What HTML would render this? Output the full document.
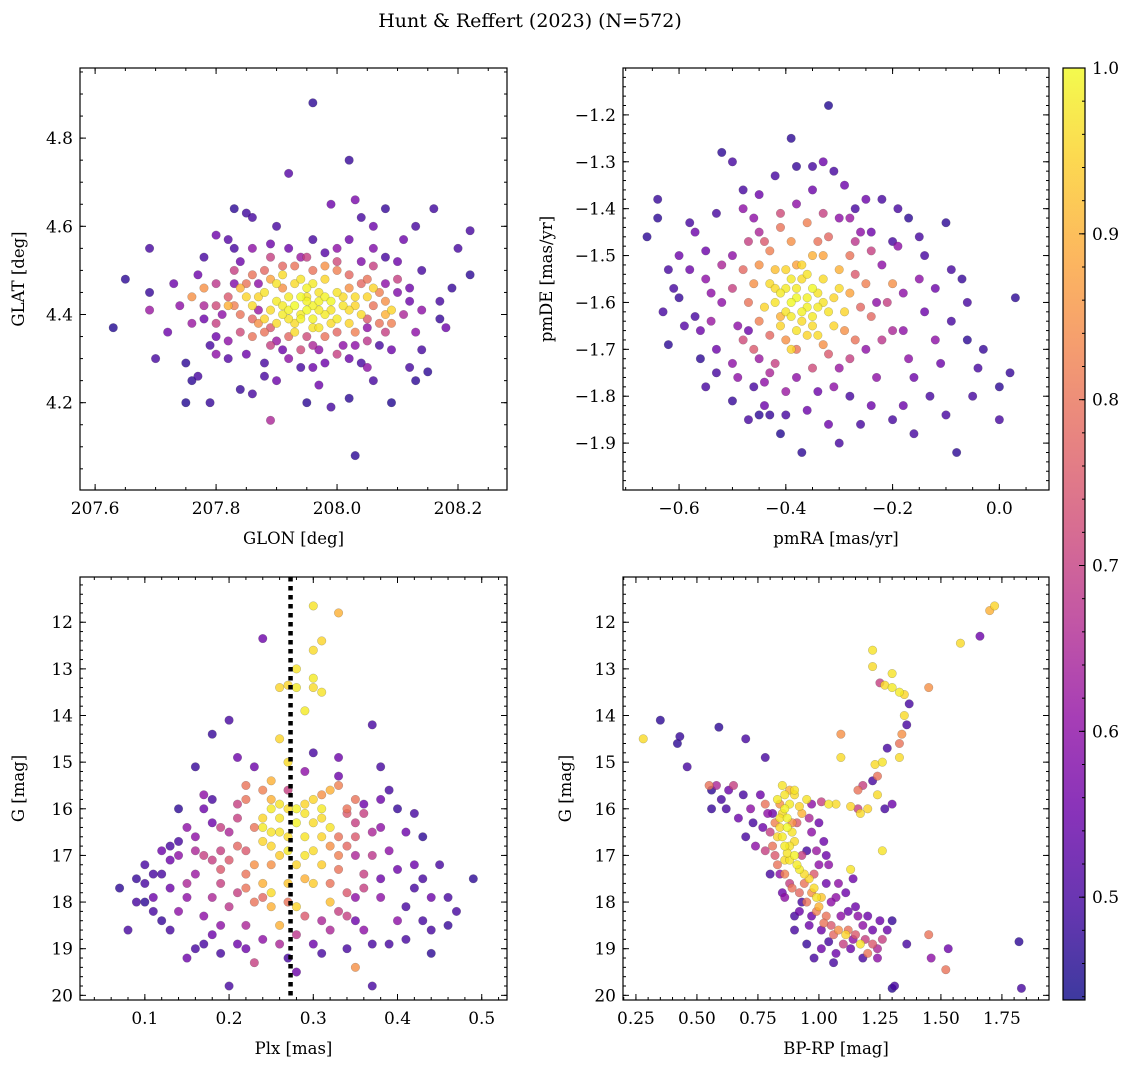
<!DOCTYPE html>
<html><head><meta charset="utf-8"><style>
body{margin:0;background:#fff;}
svg{display:block;font-family:"DejaVu Serif","Liberation Serif",serif;}
</style></head><body>
<svg id="fig" width="1136" height="1067" viewBox="0 0 1136 1067" xmlns="http://www.w3.org/2000/svg">
<text x="530" y="27" font-size="19" text-anchor="middle">Hunt &amp; Reffert (2023) (N=572)</text>
</svg>
<script>
// [x, y, probability] per star
const skyStars=[[207.63,4.37,.46],[207.65,4.48,.47],[207.69,4.55,.5],[207.69,4.45,.48],[207.69,4.41,.62],[207.73,4.47,.55],[207.75,4.29,.47],[207.75,4.20,.46],[207.76,4.25,.47],[207.77,4.26,.5],[207.79,4.20,.48],[207.78,4.53,.5],[207.80,4.35,.55],[207.82,4.57,.52],[207.83,4.64,.47],[207.85,4.63,.49],[207.86,4.62,.5],[207.92,4.72,.52],[207.96,4.88,.47],[207.99,4.65,.55],[208.02,4.75,.48],[208.03,4.66,.57],[208.03,4.08,.47],[208.04,4.62,.5],[208.08,4.64,.48],[208.11,4.57,.55],[208.13,4.60,.5],[208.16,4.64,.49],[208.22,4.59,.5],[208.22,4.49,.47],[208.19,4.46,.48],[208.17,4.43,.5],[208.17,4.39,.48],[208.15,4.27,.47],[208.12,4.28,.5],[208.13,4.25,.47],[208.09,4.20,.46],[208.06,4.25,.5],[208.02,4.30,.55],[208.02,4.21,.47],[207.95,4.20,.47],[207.99,4.19,.5],[207.90,4.25,.55],[207.89,4.16,.65],[207.86,4.22,.5],[207.84,4.23,.48],[207.82,4.30,.52],[207.80,4.31,.6],[207.78,4.39,.55],[207.76,4.38,.62],[208.10,4.52,.55],[208.08,4.47,.6],[208.06,4.55,.58],[208.14,4.50,.5],[208.12,4.43,.55],[208.05,4.37,.6],[208.07,4.33,.5],[207.96,4.28,.55],[207.92,4.30,.6],[207.88,4.29,.5],[207.87,4.47,.6],[207.84,4.52,.55],[207.92,4.55,.55],[208.00,4.55,.6],[207.98,4.54,.52],[207.87,4.41,.62],[208.14,4.41,.6],[207.83,4.47,.58],[207.81,4.40,.6],[207.94,4.53,.62],[208.04,4.52,.58],[208.01,4.33,.6],[207.90,4.34,.62],[207.97,4.32,.6],[208.10,4.45,.58],[207.86,4.55,.6],[207.82,4.44,.75],[207.85,4.47,.8],[207.88,4.50,.78],[207.93,4.51,.8],[208.00,4.50,.82],[208.04,4.47,.78],[208.06,4.42,.8],[208.05,4.39,.75],[208.00,4.36,.78],[207.95,4.35,.72],[207.89,4.37,.75],[207.84,4.40,.8],[207.80,4.42,.72],[207.78,4.46,.85],[208.09,4.38,.82],[208.02,4.46,.85],[207.91,4.46,.85],[207.86,4.35,.8],[207.76,4.44,.85],[208.08,4.40,.9],[207.98,4.51,.85],[207.89,4.48,.88],[207.88,4.45,.97],[207.90,4.43,.98],[207.92,4.41,.99],[207.94,4.44,1],[207.96,4.42,.99],[207.98,4.40,.98],[207.97,4.45,.97],[207.93,4.38,.96],[207.95,4.46,.99],[207.99,4.43,1],[208.01,4.42,.97],[207.91,4.40,.98],[207.89,4.41,.96],[207.94,4.39,.99],[207.96,4.37,.97],[208.02,4.41,.96],[207.87,4.44,.95],[207.93,4.47,.96],[207.98,4.48,.95],[208.03,4.44,.96],[207.90,4.47,.97],[207.86,4.42,.96],[208.00,4.39,.98],[207.95,4.41,1],[208.09,4.41,.95],[207.97,4.43,.99],[207.92,4.44,.98],[208.00,4.45,.97],[207.99,4.38,.96],
[207.93,4.42,1],[207.95,4.43,.99],[207.97,4.41,.98],[207.99,4.41,.97],[207.94,4.40,.98],[207.96,4.39,.99],[207.92,4.39,.97],[207.91,4.42,.98],[207.95,4.44,.97],[207.98,4.44,.99],[208.01,4.44,.96],[208.03,4.42,.95],[208.05,4.44,.95],[207.90,4.38,.96],[207.88,4.39,.95],[207.93,4.36,.96],[207.97,4.37,.97],[208.02,4.38,.95],[207.85,4.44,.95],[208.06,4.46,.95],[208.04,4.40,.96],[207.94,4.48,.97],[207.91,4.49,.96],[207.96,4.47,.98],[207.84,4.46,.9],[207.82,4.42,.9],[207.87,4.38,.85],[207.88,4.36,.8],[207.92,4.35,.78],[207.98,4.35,.8],[208.03,4.36,.82],[208.07,4.38,.8],[208.07,4.45,.82],[208.05,4.48,.8],[208.02,4.49,.78],[207.96,4.50,.8],[207.91,4.51,.78],[207.86,4.49,.8],[207.83,4.42,.82],[207.86,4.39,.78],[208.08,4.43,.85],[207.80,4.38,.7],[207.84,4.36,.72],[207.89,4.33,.7],[207.94,4.32,.72],[208.00,4.31,.7],[208.05,4.34,.68],[208.08,4.36,.7],[208.11,4.40,.65],[208.10,4.48,.7],[208.06,4.51,.7],[208.00,4.52,.72],[207.95,4.53,.7],[207.89,4.53,.7],[207.83,4.50,.7],[207.80,4.47,.68],[207.78,4.42,.65],[207.82,4.34,.6],[207.85,4.31,.55],[207.94,4.28,.5],[207.98,4.29,.55],[208.04,4.29,.5],[208.09,4.32,.55],[208.13,4.36,.6],[208.12,4.46,.55],[208.08,4.53,.5],[208.02,4.57,.55],[207.96,4.57,.5],[207.89,4.56,.55],[207.83,4.55,.5],[207.77,4.49,.55],[207.74,4.42,.6],[207.79,4.33,.5],[207.88,4.26,.5],[207.97,4.24,.55],[208.05,4.28,.6],[208.18,4.37,.55],[208.20,4.55,.5],[207.72,4.36,.55],[207.70,4.30,.5],[208.06,4.60,.55],[207.90,4.60,.5],[207.80,4.58,.55],[208.14,4.32,.5],[207.96,4.33,.65],[207.91,4.32,.55],[208.03,4.33,.6]];
const pmStars=[[-0.66,-1.46,.47],[-0.64,-1.38,.48],[-0.64,-1.42,.47],[-0.62,-1.53,.5],[-0.62,-1.69,.47],[-0.60,-1.59,.48],[-0.58,-1.43,.5],[-0.58,-1.53,.55],[-0.57,-1.63,.5],[-0.56,-1.72,.47],[-0.55,-1.49,.55],[-0.54,-1.58,.6],[-0.53,-1.75,.5],[-0.52,-1.28,.47],[-0.50,-1.30,.5],[-0.50,-1.81,.48],[-0.48,-1.36,.5],[-0.47,-1.66,.55],[-0.46,-1.78,.5],[-0.45,-1.84,.47],[-0.43,-1.84,.48],[-0.42,-1.33,.5],[-0.41,-1.88,.46],[-0.40,-1.84,.5],[-0.39,-1.25,.47],[-0.38,-1.31,.48],[-0.37,-1.92,.47],[-0.35,-1.31,.5],[-0.33,-1.30,.55],[-0.32,-1.18,.46],[-0.31,-1.32,.5],[-0.29,-1.35,.55],[-0.27,-1.40,.5],[-0.24,-1.45,.55],[-0.22,-1.38,.5],[-0.20,-1.47,.5],[-0.17,-1.42,.47],[-0.14,-1.50,.5],[-0.10,-1.43,.47],[-0.09,-1.53,.5],[-0.07,-1.55,.48],[-0.06,-1.68,.47],[-0.04,-1.74,.5],[-0.03,-1.70,.48],[0.00,-1.78,.47],[0.00,-1.85,.5],[0.02,-1.75,.48],[0.03,-1.59,.47],[-0.10,-1.84,.5],[-0.08,-1.92,.47],[-0.13,-1.80,.5],[-0.16,-1.76,.55],[-0.20,-1.85,.5],[-0.24,-1.82,.55],[-0.28,-1.80,.5],[-0.32,-1.86,.55],[-0.34,-1.79,.55],[-0.44,-1.77,.6],[-0.50,-1.73,.6],[-0.56,-1.66,.55],[-0.60,-1.50,.55],[-0.14,-1.62,.55],[-0.12,-1.68,.6],[-0.17,-1.72,.6],[-0.20,-1.66,.65],[-0.23,-1.60,.6],[-0.22,-1.52,.6],[-0.26,-1.45,.6],[-0.30,-1.42,.6],[-0.46,-1.42,.6],[-0.50,-1.50,.6],[-0.52,-1.60,.6],[-0.49,-1.65,.6],[-0.45,-1.72,.62],[-0.38,-1.76,.6],[-0.30,-1.74,.62],[-0.25,-1.70,.6],[-0.18,-1.58,.6],[-0.44,-1.47,.75],[-0.41,-1.44,.8],[-0.36,-1.43,.82],[-0.32,-1.46,.78],[-0.28,-1.50,.8],[-0.25,-1.56,.82],[-0.24,-1.63,.78],[-0.27,-1.68,.8],[-0.32,-1.71,.75],[-0.38,-1.70,.8],[-0.43,-1.67,.78],[-0.47,-1.60,.8],[-0.48,-1.53,.78],[-0.45,-1.52,.85],[-0.33,-1.50,.88],[-0.20,-1.56,.85],[-0.46,-1.70,.75],[-0.41,-1.63,.9],[-0.38,-1.52,.88],[-0.40,-1.57,.98],[-0.38,-1.59,1],[-0.36,-1.61,.99],[-0.34,-1.58,.97],[-0.37,-1.55,.96],[-0.42,-1.60,.97],[-0.39,-1.63,.98],[-0.35,-1.65,.96],[-0.32,-1.62,.97],[-0.33,-1.55,.96],[-0.36,-1.67,.95],[-0.40,-1.53,.95],[-0.43,-1.56,.96],[-0.31,-1.59,.95],[-0.38,-1.66,.97],[-0.35,-1.57,1],[-0.37,-1.62,.99],[-0.41,-1.58,.98],[-0.34,-1.61,.98],[-0.29,-1.62,.95],[-0.39,-1.70,.95],
[-0.39,-1.60,1],[-0.36,-1.59,.99],[-0.38,-1.57,.98],[-0.40,-1.62,.97],[-0.35,-1.63,.98],[-0.33,-1.60,.97],[-0.37,-1.64,.96],[-0.42,-1.57,.96],[-0.36,-1.54,.97],[-0.39,-1.55,.98],[-0.41,-1.65,.95],[-0.34,-1.67,.96],[-0.31,-1.65,.95],[-0.30,-1.57,.96],[-0.44,-1.61,.95],[-0.37,-1.52,.95],[-0.42,-1.53,.92],[-0.35,-1.50,.9],[-0.30,-1.53,.9],[-0.28,-1.58,.88],[-0.29,-1.66,.85],[-0.33,-1.69,.85],[-0.40,-1.68,.85],[-0.45,-1.64,.82],[-0.46,-1.56,.85],[-0.43,-1.49,.82],[-0.39,-1.47,.85],[-0.34,-1.47,.8],[-0.27,-1.54,.75],[-0.26,-1.61,.78],[-0.28,-1.72,.7],[-0.35,-1.74,.72],[-0.42,-1.73,.7],[-0.48,-1.68,.72],[-0.50,-1.57,.7],[-0.47,-1.47,.7],[-0.41,-1.41,.72],[-0.33,-1.41,.7],[-0.24,-1.49,.7],[-0.21,-1.60,.7],[-0.22,-1.68,.68],[-0.52,-1.52,.65],[-0.54,-1.64,.62],[-0.49,-1.76,.6],[-0.40,-1.79,.62],[-0.31,-1.78,.6],[-0.23,-1.76,.6],[-0.18,-1.66,.6],[-0.15,-1.55,.6],[-0.19,-1.48,.6],[-0.28,-1.42,.62],[-0.38,-1.39,.6],[-0.48,-1.40,.6],[-0.55,-1.55,.6],[-0.57,-1.45,.55],[-0.59,-1.65,.52],[-0.53,-1.70,.55],[-0.44,-1.82,.55],[-0.36,-1.83,.55],[-0.26,-1.86,.5],[-0.18,-1.82,.55],[-0.11,-1.73,.55],[-0.09,-1.64,.5],[-0.12,-1.57,.55],[-0.15,-1.46,.5],[-0.25,-1.38,.55],[-0.35,-1.36,.55],[-0.45,-1.37,.55],[-0.53,-1.41,.5],[-0.61,-1.57,.5],[-0.06,-1.60,.5],[-0.05,-1.80,.5],[-0.16,-1.88,.5],[-0.30,-1.90,.5],[-0.47,-1.85,.5],[-0.55,-1.78,.5],[-0.63,-1.62,.5],[-0.19,-1.40,.5],[-0.27,-1.47,.68],[-0.45,-1.45,.65],[-0.43,-1.75,.65]];
const plxStars=[[0.07,17.7,.47],[0.08,18.6,.5],[0.09,17.5,.48],[0.10,17.2,.5],[0.10,18.0,.47],[0.11,17.9,.55],[0.12,17.4,.5],[0.12,18.4,.48],[0.13,17.1,.55],[0.13,16.8,.5],[0.14,16.0,.47],[0.14,18.2,.6],[0.15,19.2,.55],[0.15,17.6,.65],[0.16,15.1,.48],[0.16,16.6,.6],[0.17,18.9,.5],[0.17,17.0,.7],[0.18,14.4,.48],[0.18,16.3,.55],[0.19,18.5,.6],[0.19,17.3,.75],[0.20,14.1,.5],[0.20,16.5,.65],[0.21,17.8,.7],[0.21,18.9,.55],[0.22,15.5,.8],[0.22,16.9,.75],[0.23,19.3,.7],[0.23,18.0,.8],[0.24,12.35,.55],[0.24,16.2,.95],[0.25,15.8,.9],[0.25,17.2,.85],[0.26,14.5,.95],[0.26,16.5,.97],[0.27,13.35,.95],[0.27,15.0,.96],[0.28,13.4,.98],[0.28,16.0,.99],[0.29,16.6,.97],[0.29,17.5,.9],[0.30,11.65,.97],[0.30,13.2,.98],[0.30,12.6,.96],[0.31,12.4,.95],[0.31,13.5,.97],[0.31,16.2,.96],[0.32,15.6,.9],[0.32,16.8,.85],[0.33,11.8,.9],[0.33,17.3,.8],[0.34,16.1,.75],[0.34,18.3,.7],[0.35,19.4,.85],[0.35,17.0,.65],[0.36,15.9,.55],[0.36,18.6,.6],[0.37,14.2,.5],[0.37,19.8,.5],[0.38,17.5,.55],[0.38,16.4,.6],[0.39,18.9,.5],[0.39,15.6,.5],[0.40,17.3,.55],[0.40,16.0,.48],[0.41,18.1,.5],[0.42,17.7,.5],[0.43,16.6,.47],[0.43,18.4,.5],[0.44,19.1,.47],[0.45,17.2,.5],[0.46,18.5,.48],[0.47,18.2,.5],[0.49,17.5,.47],[0.20,19.8,.5],[0.30,18.9,.55],[0.26,18.5,.9],[0.28,18.1,.95],[0.25,17.8,.96],[0.29,17.0,.97],[0.27,16.9,.98],[0.24,16.4,.98],[0.26,15.9,.97],[0.30,15.8,.95],[0.32,16.4,.97],[0.28,16.3,.99],[0.25,16.8,.95],[0.31,17.2,.94],[0.27,17.6,.93],[0.22,17.4,.8],[0.34,17.8,.75],[0.36,17.4,.7],[0.19,16.9,.7],[0.33,16.6,.8],[0.21,16.2,.7],[0.18,17.9,.65],[0.35,16.3,.7],[0.24,18.8,.6],[0.31,18.4,.65],[0.15,16.4,.6],[0.41,16.5,.55],[0.12,16.9,.55],[0.44,17.9,.55],[0.28,19.5,.55],[0.33,15.3,.55],[0.23,15.1,.55],[0.17,15.7,.6],[0.38,15.1,.5],[0.30,14.8,.5],[0.29,13.9,.98],[0.28,13.0,.97],[0.26,13.4,.95],[0.30,13.4,.96],[0.25,15.4,.9],[0.35,17.9,.6],
[0.25,16.0,.98],[0.26,16.2,.97],[0.27,16.0,.96],[0.25,16.5,.97],[0.24,16.7,.95],[0.27,16.6,.96],[0.29,16.1,.97],[0.30,16.3,.96],[0.31,16.0,.98],[0.29,15.9,.95],[0.31,16.6,.95],[0.30,16.9,.96],[0.28,17.2,.95],[0.26,17.0,.94],[0.24,17.6,.9],[0.25,18.1,.9],[0.30,17.6,.94],[0.32,18.0,.92],[0.22,15.8,.8],[0.23,16.4,.8],[0.21,16.8,.78],[0.20,17.1,.75],[0.22,17.7,.8],[0.24,17.9,.78],[0.27,18.0,.8],[0.29,18.3,.75],[0.32,17.6,.8],[0.33,17.0,.82],[0.34,16.8,.78],[0.35,16.6,.75],[0.34,16.0,.8],[0.33,15.5,.82],[0.35,15.8,.8],[0.31,15.7,.85],[0.24,15.6,.82],[0.21,15.9,.7],[0.19,16.4,.7],[0.18,17.1,.7],[0.19,17.6,.7],[0.20,18.1,.68],[0.22,18.5,.65],[0.26,18.9,.65],[0.28,18.7,.68],[0.32,18.6,.65],[0.33,18.2,.7],[0.36,17.7,.7],[0.37,17.0,.68],[0.37,16.5,.65],[0.36,16.1,.7],[0.16,17.4,.62],[0.15,17.9,.6],[0.17,18.3,.6],[0.14,17.0,.6],[0.16,16.9,.65],[0.38,17.9,.6],[0.40,18.4,.6],[0.39,16.9,.6],[0.42,17.2,.55],[0.13,17.7,.55],[0.11,18.2,.5],[0.09,18.0,.5],[0.10,17.6,.5],[0.13,18.6,.5],[0.16,19.0,.5],[0.19,19.1,.5],[0.22,19.0,.55],[0.27,19.2,.5],[0.31,19.1,.5],[0.34,19.0,.5],[0.37,18.9,.5],[0.41,18.8,.5],[0.44,18.6,.5],[0.46,17.9,.5],[0.42,16.1,.5],[0.17,16.0,.55],[0.14,16.7,.5],[0.18,15.8,.5],[0.38,15.8,.55],[0.21,14.9,.55],[0.29,15.2,.6],[0.33,14.9,.55],[0.27,15.6,.7],[0.23,17.2,.85],[0.35,18.4,.55],[0.18,18.7,.55],[0.43,17.5,.5],[0.11,17.4,.5]];
const cmdStars=[[0.28,14.5,.96],[0.35,14.1,.47],[0.42,14.6,.47],[0.43,14.45,.48],[0.46,15.1,.5],[0.59,14.25,.47],[0.70,14.5,.5],[0.55,15.5,.8],[0.56,15.6,.47],[0.58,15.5,.65],[0.60,15.8,.5],[0.56,16.0,.48],[0.62,16.0,.5],[0.65,15.5,.7],[0.67,16.2,.55],[0.72,16.0,.6],[0.78,14.9,.5],[0.78,15.9,.8],[0.85,15.5,.97],[0.83,15.8,.98],[0.86,16.0,.99],[0.84,16.2,.97],[0.87,16.4,1],[0.85,16.6,.98],[0.88,16.8,.97],[0.90,17.0,.99],[0.86,17.1,.96],[0.92,17.3,.98],[0.90,15.7,.96],[0.95,15.8,.97],[0.93,16.1,.9],[0.89,16.3,.85],[0.80,16.5,.7],[0.82,17.0,.75],[0.78,16.9,.7],[0.84,17.4,.6],[0.94,17.6,.8],[0.97,17.8,.85],[0.99,17.9,.97],[1.00,18.1,.9],[1.03,18.3,.8],[1.05,18.5,.75],[1.08,18.6,.85],[1.10,18.9,.7],[1.14,18.8,.6],[1.17,18.9,.97],[1.20,19.1,.8],[1.24,19.0,.65],[1.26,18.8,.7],[1.00,17.2,.6],[1.03,17.6,.55],[1.07,17.9,.6],[1.12,18.2,.55],[1.18,18.5,.6],[1.25,18.4,.55],[0.97,18.3,.55],[0.93,18.0,.5],[0.90,18.6,.5],[0.95,18.9,.48],[0.98,19.2,.5],[1.07,19.1,.55],[1.30,18.4,.48],[1.36,18.9,.5],[1.45,18.7,.8],[1.46,19.2,.6],[1.53,19.0,.55],[1.52,19.45,.8],[1.82,18.85,.47],[1.83,19.85,.5],[1.30,19.85,.47],[1.31,19.8,.5],[1.13,17.3,.97],[0.97,16.5,.6],[0.95,16.9,.5],[1.02,16.7,.55],[0.74,16.8,.6],[0.70,16.6,.5],[1.04,15.9,.97],[1.07,15.9,.96],[1.01,15.85,.7],[1.13,15.95,.95],[1.16,16.0,.7],[1.17,16.1,.96],[1.22,15.4,.5],[1.18,15.5,.7],[1.24,15.3,.8],[1.24,15.7,.96],[1.27,16.0,.5],[1.26,15.0,.97],[1.23,15.05,.96],[1.09,14.4,.85],[1.09,14.9,.96],[1.30,13.1,.97],[1.22,12.6,.97],[1.22,12.95,.96],[1.25,13.3,.7],[1.27,13.35,.96],[1.33,13.5,.98],[1.30,13.4,.98],[1.35,13.55,.95],[1.35,14.0,.96],[1.34,14.4,.85],[1.33,14.6,.8],[1.36,14.2,.5],[1.37,13.75,.5],[1.45,13.4,.85],[1.58,12.45,.96],[1.66,12.3,.55],[1.70,11.75,.9],[1.72,11.65,.95],[0.88,17.6,.7],[0.86,17.9,.6],[0.92,18.2,.55],[1.11,18.7,.95],[0.81,16.1,.55],[0.76,15.7,.55],
[0.86,15.7,.97],[0.88,15.9,.98],[0.85,16.1,.96],[0.87,16.2,.99],[0.89,16.5,.97],[0.86,16.8,.98],[0.88,17.1,.97],[0.90,16.7,.96],[0.91,17.2,.98],[0.94,17.4,.96],[0.92,15.95,.95],[0.84,16.4,.96],[0.83,16.6,.95],[0.87,16.95,.97],[0.96,17.5,.95],[0.98,17.7,.96],[1.01,17.9,.93],[0.90,15.6,.97],[0.88,15.6,.9],[0.84,15.9,.85],[0.82,16.3,.82],[0.81,16.8,.8],[0.83,17.2,.8],[0.86,17.4,.82],[0.89,17.7,.8],[0.92,17.8,.78],[0.95,18.0,.8],[0.99,18.2,.82],[1.02,18.45,.8],[1.06,18.7,.78],[1.12,18.6,.8],[1.15,18.7,.75],[1.19,18.8,.7],[1.22,18.9,.75],[0.98,17.4,.75],[0.93,17.0,.7],[0.91,16.3,.75],[0.96,16.2,.65],[0.99,16.9,.62],[1.04,17.2,.6],[1.08,17.6,.6],[1.11,17.8,.55],[1.15,18.1,.55],[1.20,18.3,.55],[1.22,18.6,.55],[1.28,18.6,.55],[1.05,18.0,.6],[1.01,18.6,.55],[1.04,18.85,.5],[1.13,19.0,.55],[1.18,19.2,.5],[0.96,18.5,.55],[0.90,18.3,.5],[0.85,17.8,.55],[0.80,17.4,.5],[0.77,16.4,.55],[0.73,16.3,.5],[0.79,16.1,.6],[0.69,15.7,.5],[0.63,15.6,.55],[1.00,16.3,.55],[1.03,17.0,.55],[0.97,15.9,.6],[1.09,18.3,.6],[1.16,18.3,.6],[1.14,17.5,.55],[1.01,19.0,.55],[1.06,19.3,.5],[1.24,19.2,.6],[1.26,16.9,.97],[1.16,15.6,.8],[1.20,16.0,.95],[1.30,15.9,.55],[1.33,14.9,.96],[1.28,14.7,.5]];
// tick label arrays
const skyXTicks=[207.6,207.8,208.0,208.2], skyXLabels=["207.6","207.8","208.0","208.2"];
const skyYTicks=[4.2,4.4,4.6,4.8], skyYLabels=["4.2","4.4","4.6","4.8"];
const pmXTicks=[-0.6,-0.4,-0.2,0.0], pmXLabels=["\u22120.6","\u22120.4","\u22120.2","0.0"];
const pmYTicks=[-1.9,-1.8,-1.7,-1.6,-1.5,-1.4,-1.3,-1.2], pmYLabels=["\u22121.9","\u22121.8","\u22121.7","\u22121.6","\u22121.5","\u22121.4","\u22121.3","\u22121.2"];
const plxXTicks=[0.1,0.2,0.3,0.4,0.5], plxXLabels=["0.1","0.2","0.3","0.4","0.5"];
const gTicks=[12,13,14,15,16,17,18,19,20], gLabels=["12","13","14","15","16","17","18","19","20"];
const cmdXTicks=[0.25,0.5,0.75,1.0,1.25,1.5,1.75], cmdXLabels=["0.25","0.50","0.75","1.00","1.25","1.50","1.75"];
const cbTicks=[0.5,0.6,0.7,0.8,0.9,1.0], cbLabels=["0.5","0.6","0.7","0.8","0.9","1.0"];
const plxLine=0.273;
const pMin=0.438, pMax=1.0;

const NS="http://www.w3.org/2000/svg";
const svg=document.getElementById('fig');
const plasma=[[13,8,135],[65,4,157],[106,0,168],[143,13,164],[177,42,144],[204,71,120],[225,100,98],[242,132,75],[252,166,54],[252,206,37],[240,249,33]];
function cmap(p){let t=Math.max(0,Math.min(1,(p-pMin)/(pMax-pMin)))*10;let i=Math.min(9,Math.floor(t)),f=t-i;const a=plasma[i],b=plasma[i+1];return `rgb(${a.map((v,k)=>Math.round(v+(b[k]-v)*f)).join(',')})`;}
function el(tag,attrs,parent){const e=document.createElementNS(NS,tag);for(const k in attrs)e.setAttribute(k,attrs[k]);(parent||svg).appendChild(e);return e;}
function txt(x,y,s,size,anchor,parent,rot){const t=el('text',{x:x,y:y,'font-size':size,'text-anchor':anchor},parent);if(rot)t.setAttribute('transform',`rotate(-90 ${x} ${y})`);t.textContent=s;return t;}

function panel(name,box,xd,yd,xt,xl,yt,yl,xminor,yminor,stars,xlab,ylab,ylabX){
  const [L,T,R,B]=box;
  const g=el('g',{});
  
  
  const sx=v=>L+(v-xd[0])/(xd[1]-xd[0])*(R-L);
  const sy=v=>T+(v-yd[0])/(yd[1]-yd[0])*(B-T);
  const pts=el('g',{},g);
  
  
  [...stars].sort((a,b)=>a[2]-b[2]).forEach(s=>{
    const c=el('circle',{cx:sx(s[0]),cy:sy(s[1]),r:4.3,fill:cmap(s[2]),'fill-opacity':0.8,stroke:'rgba(60,60,60,0.45)','stroke-width':0.4},pts);
    
    
  });
  const fr=el('rect',{x:L,y:T,width:R-L,height:B-T,fill:'none',stroke:'#000','stroke-width':1.2},g);
  
  
  const tk=el('g',{stroke:'#000','stroke-width':1},g);
  const lo=Math.min(xd[0],xd[1]),hi=Math.max(xd[0],xd[1]);
  for(let v=Math.ceil(lo/xminor)*xminor;v<=hi;v+=xminor){const x=sx(v);el('line',{x1:x,x2:x,y1:B,y2:B-3},tk);el('line',{x1:x,x2:x,y1:T,y2:T+3},tk);}
  const ylo=Math.min(yd[0],yd[1]),yhi=Math.max(yd[0],yd[1]);
  for(let v=Math.ceil(ylo/yminor)*yminor;v<=yhi;v+=yminor){const y=sy(v);el('line',{x1:L,x2:L+3,y1:y,y2:y},tk);el('line',{x1:R,x2:R-3,y1:y,y2:y},tk);}
  xt.forEach((v,i)=>{const x=sx(v);el('line',{x1:x,x2:x,y1:B,y2:B-6},tk);el('line',{x1:x,x2:x,y1:T,y2:T+6},tk);
    const t=txt(x,B+24,xl[i],17,'middle',g);});
  yt.forEach((v,i)=>{const y=sy(v);el('line',{x1:L,x2:L+6,y1:y,y2:y},tk);el('line',{x1:R,x2:R-6,y1:y,y2:y},tk);
    const t=txt(L-7,y+6,yl[i],17,'end',g);});
  const xa=txt((L+R)/2,B+54,xlab,16.5,'middle',g);
  const ya=txt(ylabX,(T+B)/2,ylab,16.5,'middle',g,true);
  return {sx,sy,g};
}
panel('sky',[80,68,507,490],[207.575,208.281],[4.959,4.002],skyXTicks,skyXLabels,skyYTicks,skyYLabels,0.05,0.05,skyStars,'GLON [deg]','GLAT [deg]',24);
panel('pm',[623,68,1049,490],[-0.705,0.093],[-1.1,-2.0],pmXTicks,pmXLabels,pmYTicks,pmYLabels,0.05,0.02,pmStars,'pmRA [mas/yr]','pmDE [mas/yr]',552);
const p3=panel('plx',[80,577,507,1000],[0.023,0.53],[11.03,20.1],plxXTicks,plxXLabels,gTicks,gLabels,0.02,0.2,plxStars,'Plx [mas]','G [mag]',24);
const ln=el('line',{x1:p3.sx(plxLine),x2:p3.sx(plxLine),y1:577,y2:1000,stroke:'#000','stroke-width':4.5,'stroke-dasharray':'4.5 4.5'},p3.g);


panel('cmd',[623,577,1049,1000],[0.197,1.943],[11.03,20.1],cmdXTicks,cmdXLabels,gTicks,gLabels,0.05,0.2,cmdStars,'BP-RP [mag]','G [mag]',571);

// colorbar
const cb=el('g',{});


const defs=el('defs',{},cb);
const grad=el('linearGradient',{id:'pg',x1:0,y1:1,x2:0,y2:0},defs);
plasma.forEach((c,i)=>el('stop',{offset:i/10,'stop-color':`rgb(${c.join(',')})`,'stop-opacity':0.8},grad));
const cbT=68,cbB=1000,cy=v=>cbB-(v-pMin)/(pMax-pMin)*(cbB-cbT);
el('rect',{x:1063,y:cbT,width:22,height:cbB-cbT,fill:'url(#pg)',stroke:'#000','stroke-width':1.2},cb);
for(let v=0.44;v<=1.0001;v+=0.02){el('line',{x1:1085,x2:1082,y1:cy(v),y2:cy(v),stroke:'#000'},cb);}
cbTicks.forEach((v,i)=>{el('line',{x1:1085,x2:1079,y1:cy(v),y2:cy(v),stroke:'#000'},cb);
  const t=txt(1092,cy(v)+6,cbLabels[i],17,'start',cb);});
</script>
</body></html>
